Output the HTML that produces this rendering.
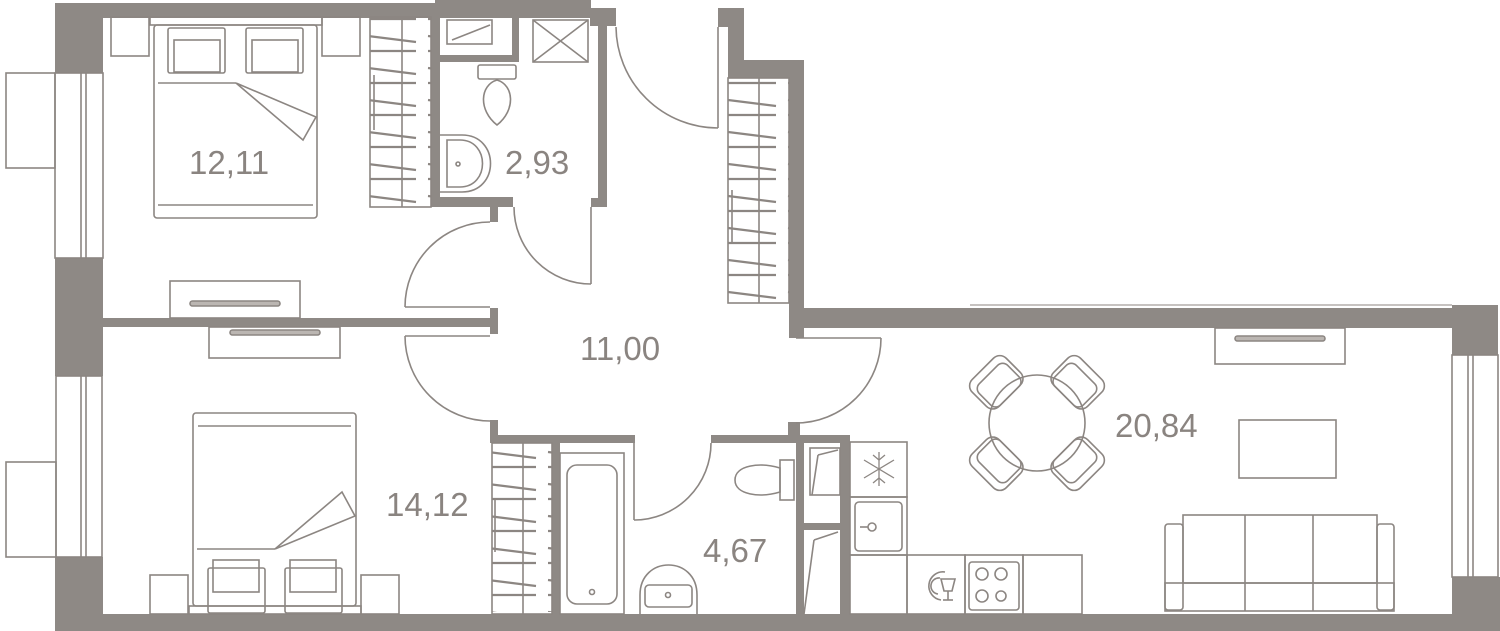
<!DOCTYPE html>
<html><head><meta charset="utf-8"><style>
html,body{margin:0;padding:0;background:#fff;}
svg{display:block;}
text{font-family:"Liberation Sans",sans-serif;font-size:33px;fill:#8a8480;}
</style></head><body>
<svg width="1500" height="631" viewBox="0 0 1500 631" xmlns="http://www.w3.org/2000/svg">
<defs>
<pattern id="hang" x="0" y="0" width="60" height="32" patternUnits="userSpaceOnUse">
<line x1="8" y1="4" x2="56" y2="10" stroke="#8c8682" stroke-width="2.2"/>
<line x1="8" y1="19" x2="56" y2="19" stroke="#8c8682" stroke-width="2.2"/>
</pattern>
</defs>
<g fill="#8e8985" stroke="none">
<!-- top wall -->
<rect x="55" y="3" width="380" height="15"/>
<rect x="435" y="0" width="156" height="18"/>
<rect x="590" y="8" width="26" height="18"/>
<rect x="598" y="8" width="9" height="199"/>
<rect x="591" y="198" width="16" height="9"/>
<!-- left wall -->
<rect x="55" y="3" width="48" height="70"/>
<rect x="55" y="258" width="48" height="118"/>
<rect x="55" y="557" width="48" height="74"/>
<!-- bottom -->
<rect x="55" y="614" width="1445" height="17"/>
<!-- bath 2.93 walls -->
<rect x="431" y="17" width="9" height="190"/>
<rect x="431" y="197" width="82" height="10"/>
<rect x="490" y="207" width="8" height="15"/>
<rect x="440" y="55" width="78" height="7"/>
<rect x="512" y="17" width="7" height="45"/>
<!-- partition between bedrooms -->
<rect x="103" y="318" width="394" height="9"/>
<rect x="490" y="308" width="8" height="26"/>
<rect x="490" y="420" width="8" height="23"/>
<!-- right of hallway -->
<rect x="718" y="8" width="26" height="19"/>
<rect x="728" y="20" width="16" height="58"/>
<rect x="728" y="60" width="76" height="18"/>
<rect x="789" y="60" width="15" height="278"/>
<rect x="789" y="308" width="663" height="20"/>
<rect x="788" y="422" width="12" height="20"/>
<!-- right wall -->
<rect x="1452" y="305" width="46" height="50"/>
<rect x="1452" y="577" width="48" height="54"/>
<!-- bath 4.67 walls -->
<rect x="490" y="435" width="145" height="8"/>
<rect x="711" y="435" width="139" height="8"/>
<rect x="552" y="443" width="8" height="171"/>
<rect x="796" y="435" width="8" height="179"/>
<rect x="840" y="435" width="10" height="179"/>
<rect x="804" y="523" width="36" height="7"/>
</g>
<g fill="none" stroke="#8c8682" stroke-width="1.6">
<!-- windows left -->
<rect x="6" y="73" width="49" height="95"/>
<rect x="55" y="73" width="48" height="185"/>
<line x1="81" y1="73" x2="81" y2="258"/><line x1="86" y1="73" x2="86" y2="258"/>
<rect x="6" y="462" width="50" height="95"/>
<rect x="56" y="376" width="46" height="181"/>
<line x1="81" y1="376" x2="81" y2="557"/><line x1="86" y1="376" x2="86" y2="557"/>
<!-- right window -->
<rect x="1452" y="355" width="46" height="222"/>
<line x1="1468" y1="355" x2="1468" y2="577"/><line x1="1473" y1="355" x2="1473" y2="577"/>
<!-- balcony thin line -->
<line x1="970" y1="305" x2="1452" y2="305" stroke-width="1"/>
<!-- bedroom 1 -->
<rect x="111" y="17" width="38" height="39"/>
<rect x="322" y="17" width="38" height="39"/>
<rect x="150" y="17" width="172" height="8"/>
<rect x="154" y="25" width="163" height="193" rx="3"/>
<line x1="158" y1="205" x2="313" y2="205"/>
<rect x="168" y="28" width="57" height="45" rx="2"/><rect x="174" y="40" width="46" height="32"/>
<rect x="246" y="28" width="57" height="45" rx="2"/><rect x="252" y="40" width="46" height="32"/>
<line x1="158" y1="83" x2="236" y2="83"/>
<polyline points="236,83 316,117 303,140 236,83"/>
<!-- wardrobe 1 -->
<rect x="370" y="17" width="61" height="190"/>
<line x1="402" y1="17" x2="402" y2="207"/>
<line x1="374" y1="75" x2="374" y2="130"/>
<rect x="170" y="281" width="130" height="37"/>
<rect x="190" y="301" width="90" height="5" rx="2.5" fill="#bbb6b2"/>
<rect x="209" y="327" width="131" height="31"/>
<rect x="230" y="330" width="90" height="5" rx="2.5" fill="#bbb6b2"/>
<!-- bath 2.93 -->
<rect x="447" y="20" width="45" height="24"/>
<line x1="452" y1="40" x2="490" y2="25"/>
<rect x="533" y="20" width="55" height="42"/>
<line x1="533" y1="20" x2="588" y2="62"/><line x1="588" y1="20" x2="533" y2="62"/>
<rect x="478" y="65" width="38" height="14" rx="2"/>
<path d="M497 80 C480 85 478 110 497 125 C516 110 514 85 497 80Z"/>
<path d="M440 135 L462 135 C500 135 500 192 462 192 L440 192"/>
<path d="M447 140 L460 140 C490 140 490 187 460 187 L447 187Z"/>
<circle cx="458" cy="164" r="2"/>
<!-- doors -->
<path d="M514 207 A77 77 0 0 0 591 284"/><line x1="591" y1="207" x2="591" y2="284"/>
<path d="M405 307 A85 85 0 0 1 490 222"/><line x1="405" y1="307" x2="490" y2="307"/>
<path d="M405 336 A85 85 0 0 0 490 421"/><line x1="405" y1="336" x2="490" y2="336"/>
<path d="M616 27 A102 102 0 0 0 718 128"/><line x1="718" y1="27" x2="718" y2="128"/>
<path d="M881 338 A85 85 0 0 1 796 423"/><line x1="796" y1="338" x2="881" y2="338"/>
<path d="M634 520 A77 77 0 0 0 711 443"/><line x1="634" y1="443" x2="634" y2="520"/>
<!-- wardrobe 2 (hall) -->
<rect x="728" y="78" width="61" height="225"/>
<line x1="759" y1="78" x2="759" y2="303"/>
<line x1="732" y1="190" x2="732" y2="242"/>
<!-- bedroom 2 -->
<rect x="150" y="575" width="38" height="39"/>
<rect x="361" y="575" width="38" height="39"/>
<rect x="193" y="413" width="163" height="193" rx="3"/>
<line x1="198" y1="426" x2="351" y2="426"/>
<rect x="189" y="606" width="172" height="8"/>
<line x1="197" y1="549" x2="275" y2="549"/>
<polyline points="275,549 342,492 355,516 275,549"/>
<rect x="208" y="568" width="57" height="45" rx="2"/><rect x="213" y="560" width="46" height="32"/>
<rect x="285" y="568" width="57" height="45" rx="2"/><rect x="290" y="560" width="46" height="32"/>
<!-- wardrobe 3 -->
<rect x="492" y="443" width="60" height="171"/>
<line x1="523" y1="443" x2="523" y2="614"/>
<line x1="495" y1="500" x2="495" y2="552"/>
<!-- bathtub -->
<rect x="560" y="453" width="64" height="161"/>
<rect x="567" y="465" width="50" height="139" rx="10"/>
<circle cx="592" cy="592" r="2.5"/>
<!-- toilet/sink 4.67 -->
<rect x="780" y="460" width="14" height="40"/>
<path d="M780 468 C760 462 735 465 735 480 C735 495 760 498 780 492Z"/>
<path d="M640 614 L640 595 C640 555 697 555 697 595 L697 614"/>
<rect x="645" y="585" width="47" height="22" rx="4"/>
<circle cx="668" cy="595" r="2.5"/>
<!-- shafts -->
<rect x="810" y="448" width="30" height="47"/>
<line x1="812" y1="495" x2="818" y2="455"/><line x1="818" y1="455" x2="838" y2="450"/>
<line x1="804" y1="614" x2="814" y2="540"/><line x1="814" y1="540" x2="838" y2="532"/>
<!-- kitchen -->
<rect x="850" y="442" width="57" height="55"/>
<rect x="850" y="497" width="57" height="58"/>
<rect x="855" y="502" width="47" height="49" rx="4"/>
<circle cx="872" cy="527" r="4"/><line x1="860" y1="527" x2="868" y2="527"/>
<rect x="850" y="555" width="57" height="59"/>
<rect x="907" y="555" width="58" height="59"/>
<rect x="965" y="555" width="58" height="59"/>
<rect x="1023" y="555" width="59" height="59"/>
<rect x="969" y="562" width="50" height="48" rx="3"/>
<circle cx="982" cy="574" r="6"/><circle cx="1001" cy="574" r="6"/>
<circle cx="982" cy="596" r="6"/><circle cx="1001" cy="596" r="5"/>
<path d="M945 572 A14 14 0 1 0 941 600"/><path d="M940 578 A8 8 0 1 0 938 594"/>
<path d="M941 579 L955 579 L952 591 L944 591Z"/><line x1="948" y1="591" x2="948" y2="600"/><line x1="943" y1="600" x2="953" y2="600"/>
<g stroke-width="1.3">
<line x1="879" y1="452" x2="879" y2="486"/><line x1="864" y1="460" x2="894" y2="478"/><line x1="864" y1="478" x2="894" y2="460"/>
<line x1="873" y1="455" x2="879" y2="460"/><line x1="885" y1="455" x2="879" y2="460"/>
<line x1="873" y1="483" x2="879" y2="478"/><line x1="885" y1="483" x2="879" y2="478"/>
</g>
<!-- dining -->
<circle cx="1037" cy="423" r="48"/>
<g transform="translate(997,383) rotate(-45)"><rect x="-24" y="-20" width="48" height="38" rx="9"/><rect x="-20" y="-12" width="40" height="30" rx="7"/></g>
<g transform="translate(1077,383) rotate(45)"><rect x="-24" y="-20" width="48" height="38" rx="9"/><rect x="-20" y="-12" width="40" height="30" rx="7"/></g>
<g transform="translate(997,463) rotate(-135)"><rect x="-24" y="-20" width="48" height="38" rx="9"/><rect x="-20" y="-12" width="40" height="30" rx="7"/></g>
<g transform="translate(1077,463) rotate(135)"><rect x="-24" y="-20" width="48" height="38" rx="9"/><rect x="-20" y="-12" width="40" height="30" rx="7"/></g>
<!-- living -->
<rect x="1215" y="328" width="130" height="36"/>
<rect x="1235" y="336" width="90" height="5" rx="2.5" fill="#bbb6b2"/>
<rect x="1239" y="420" width="97" height="58"/>
<rect x="1165" y="524" width="18" height="86" rx="3"/>
<rect x="1377" y="524" width="17" height="86" rx="3"/>
<rect x="1183" y="515" width="194" height="68"/>
<line x1="1245" y1="515" x2="1245" y2="611"/><line x1="1313" y1="515" x2="1313" y2="611"/>
<rect x="1165" y="583" width="229" height="28"/>
</g>
<rect x="370" y="17" width="61" height="190" fill="url(#hang)"/>
<rect x="728" y="80" width="61" height="220" fill="url(#hang)"/>
<rect x="492" y="445" width="60" height="167" fill="url(#hang)"/>
<text x="189" y="174">12,11</text>
<text x="505" y="174">2,93</text>
<text x="580" y="360">11,00</text>
<text x="386" y="516">14,12</text>
<text x="703" y="562">4,67</text>
<text x="1115" y="437">20,84</text>
</svg>
</body></html>
